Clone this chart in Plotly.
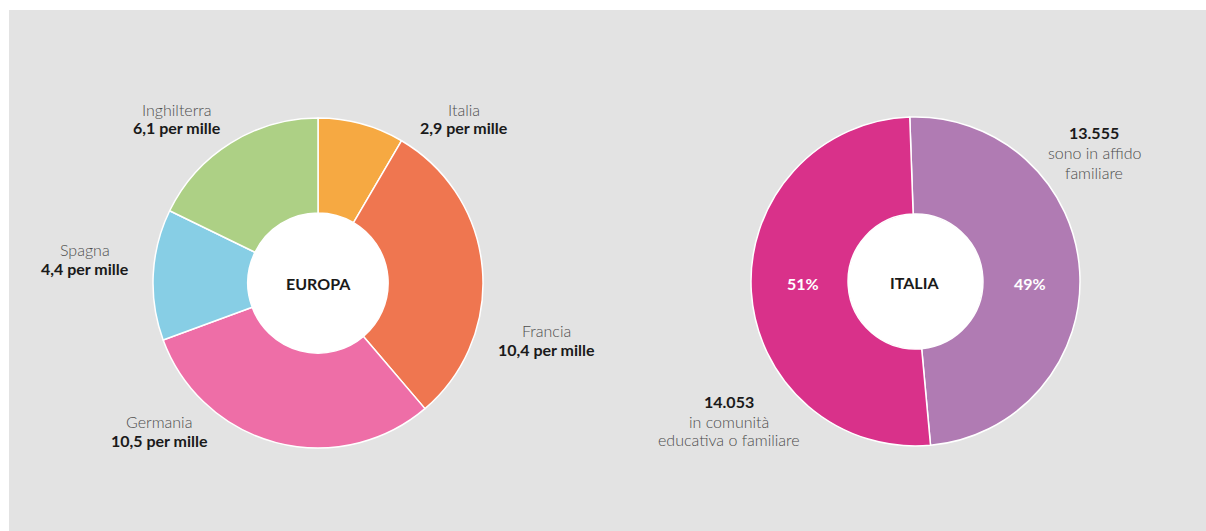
import plotly.graph_objects as go

# Europe: children in out-of-home care, per thousand
eu_countries = ["Italia", "Francia", "Germania", "Spagna", "Inghilterra"]
eu_rates = [2.9, 10.4, 10.5, 4.4, 6.1]
eu_rate_labels = ["2,9 per mille", "10,4 per mille", "10,5 per mille", "4,4 per mille", "6,1 per mille"]
eu_colors = ["#f6a942", "#ef7650", "#ee6ea7", "#87cee5", "#add085"]

# Italy: children by type of placement
it_types = ["sono in affido familiare", "in comunità educativa o familiare"]
it_counts = [13555, 14053]
it_count_labels = ["13.555", "14.053"]
it_colors = ["#b07bb3", "#d9318a"]

W, H = 1206, 531


def px_x(x):
    return x / W


def px_y(y):
    return 1 - y / H


fig = go.Figure()

fig.add_trace(go.Pie(
    labels=eu_countries,
    values=eu_rates,
    sort=False,
    direction="clockwise",
    rotation=0,
    hole=0.425,
    marker=dict(colors=eu_colors, line=dict(color="white", width=1.5)),
    textinfo="none",
    hoverinfo="label+value",
    domain=dict(x=[px_x(153), px_x(483)], y=[px_y(448), px_y(118)]),
    showlegend=False,
))

fig.add_trace(go.Pie(
    labels=it_types,
    values=it_counts,
    sort=False,
    direction="clockwise",
    rotation=-2,
    hole=0.41,
    marker=dict(colors=it_colors, line=dict(color="white", width=1.5)),
    textinfo="none",
    hoverinfo="label+value+percent",
    domain=dict(x=[px_x(751), px_x(1080)], y=[px_y(446), px_y(117)]),
    showlegend=False,
))

light = dict(family="Lato", size=16, color="#4d4d4d", weight=300)
bold = dict(family="Lato", size=16, color="#1a1a1a", weight="bold")
white_bold = dict(family="Lato", size=16, color="white", weight="bold")


def note(x, y, text, font):
    fig.add_annotation(x=px_x(x), y=px_y(y), xref="paper", yref="paper",
                       text=text, showarrow=False, font=font,
                       xanchor="center", yanchor="middle")


# country labels around the Europe donut
eu_label_pos = {
    "Italia": (464, 109),
    "Francia": (546, 330),
    "Germania": (159, 421),
    "Spagna": (85, 249),
    "Inghilterra": (177, 109),
}
for name, rate_txt in zip(eu_countries, eu_rate_labels):
    x, y = eu_label_pos[name]
    note(x, y, name, light)
    note(x, y + 19, rate_txt, bold)

# placement labels around the Italy donut
note(1094, 132, it_count_labels[0], bold)
note(1094, 152, "sono in affido", light)
note(1094, 172, "familiare", light)

note(729, 401, it_count_labels[1], bold)
note(729, 421, "in comunità", light)
note(729, 439, "educativa o familiare", light)

# percentage of each placement type, written on its slice
total = sum(it_counts)
pct_pos = [(1030, 283), (803, 283)]
for count, (x, y) in zip(it_counts, pct_pos):
    note(x, y, f"{round(count / total * 100)}%", white_bold)

# donut centre titles
note(318, 283, "EUROPA", bold)
note(914, 282, "ITALIA", bold)


def disc(cx, cy, r):
    return dict(type="circle", xref="paper", yref="paper",
                x0=px_x(cx - r), x1=px_x(cx + r), y0=px_y(cy + r), y1=px_y(cy - r),
                fillcolor="white", line=dict(width=0), layer="below")


fig.update_layout(
    width=W, height=H,
    margin=dict(l=0, r=0, t=0, b=0),
    paper_bgcolor="white",
    plot_bgcolor="white",
    shapes=[
        dict(type="rect", xref="paper", yref="paper",
             x0=px_x(9), x1=1, y0=0, y1=px_y(10),
             fillcolor="#e3e3e3", line=dict(width=0), layer="below"),
        # white centres of the two donuts
        disc(318, 283, 71),
        disc(915.5, 281.5, 68),
    ],
)

fig.write_html("out.html")
